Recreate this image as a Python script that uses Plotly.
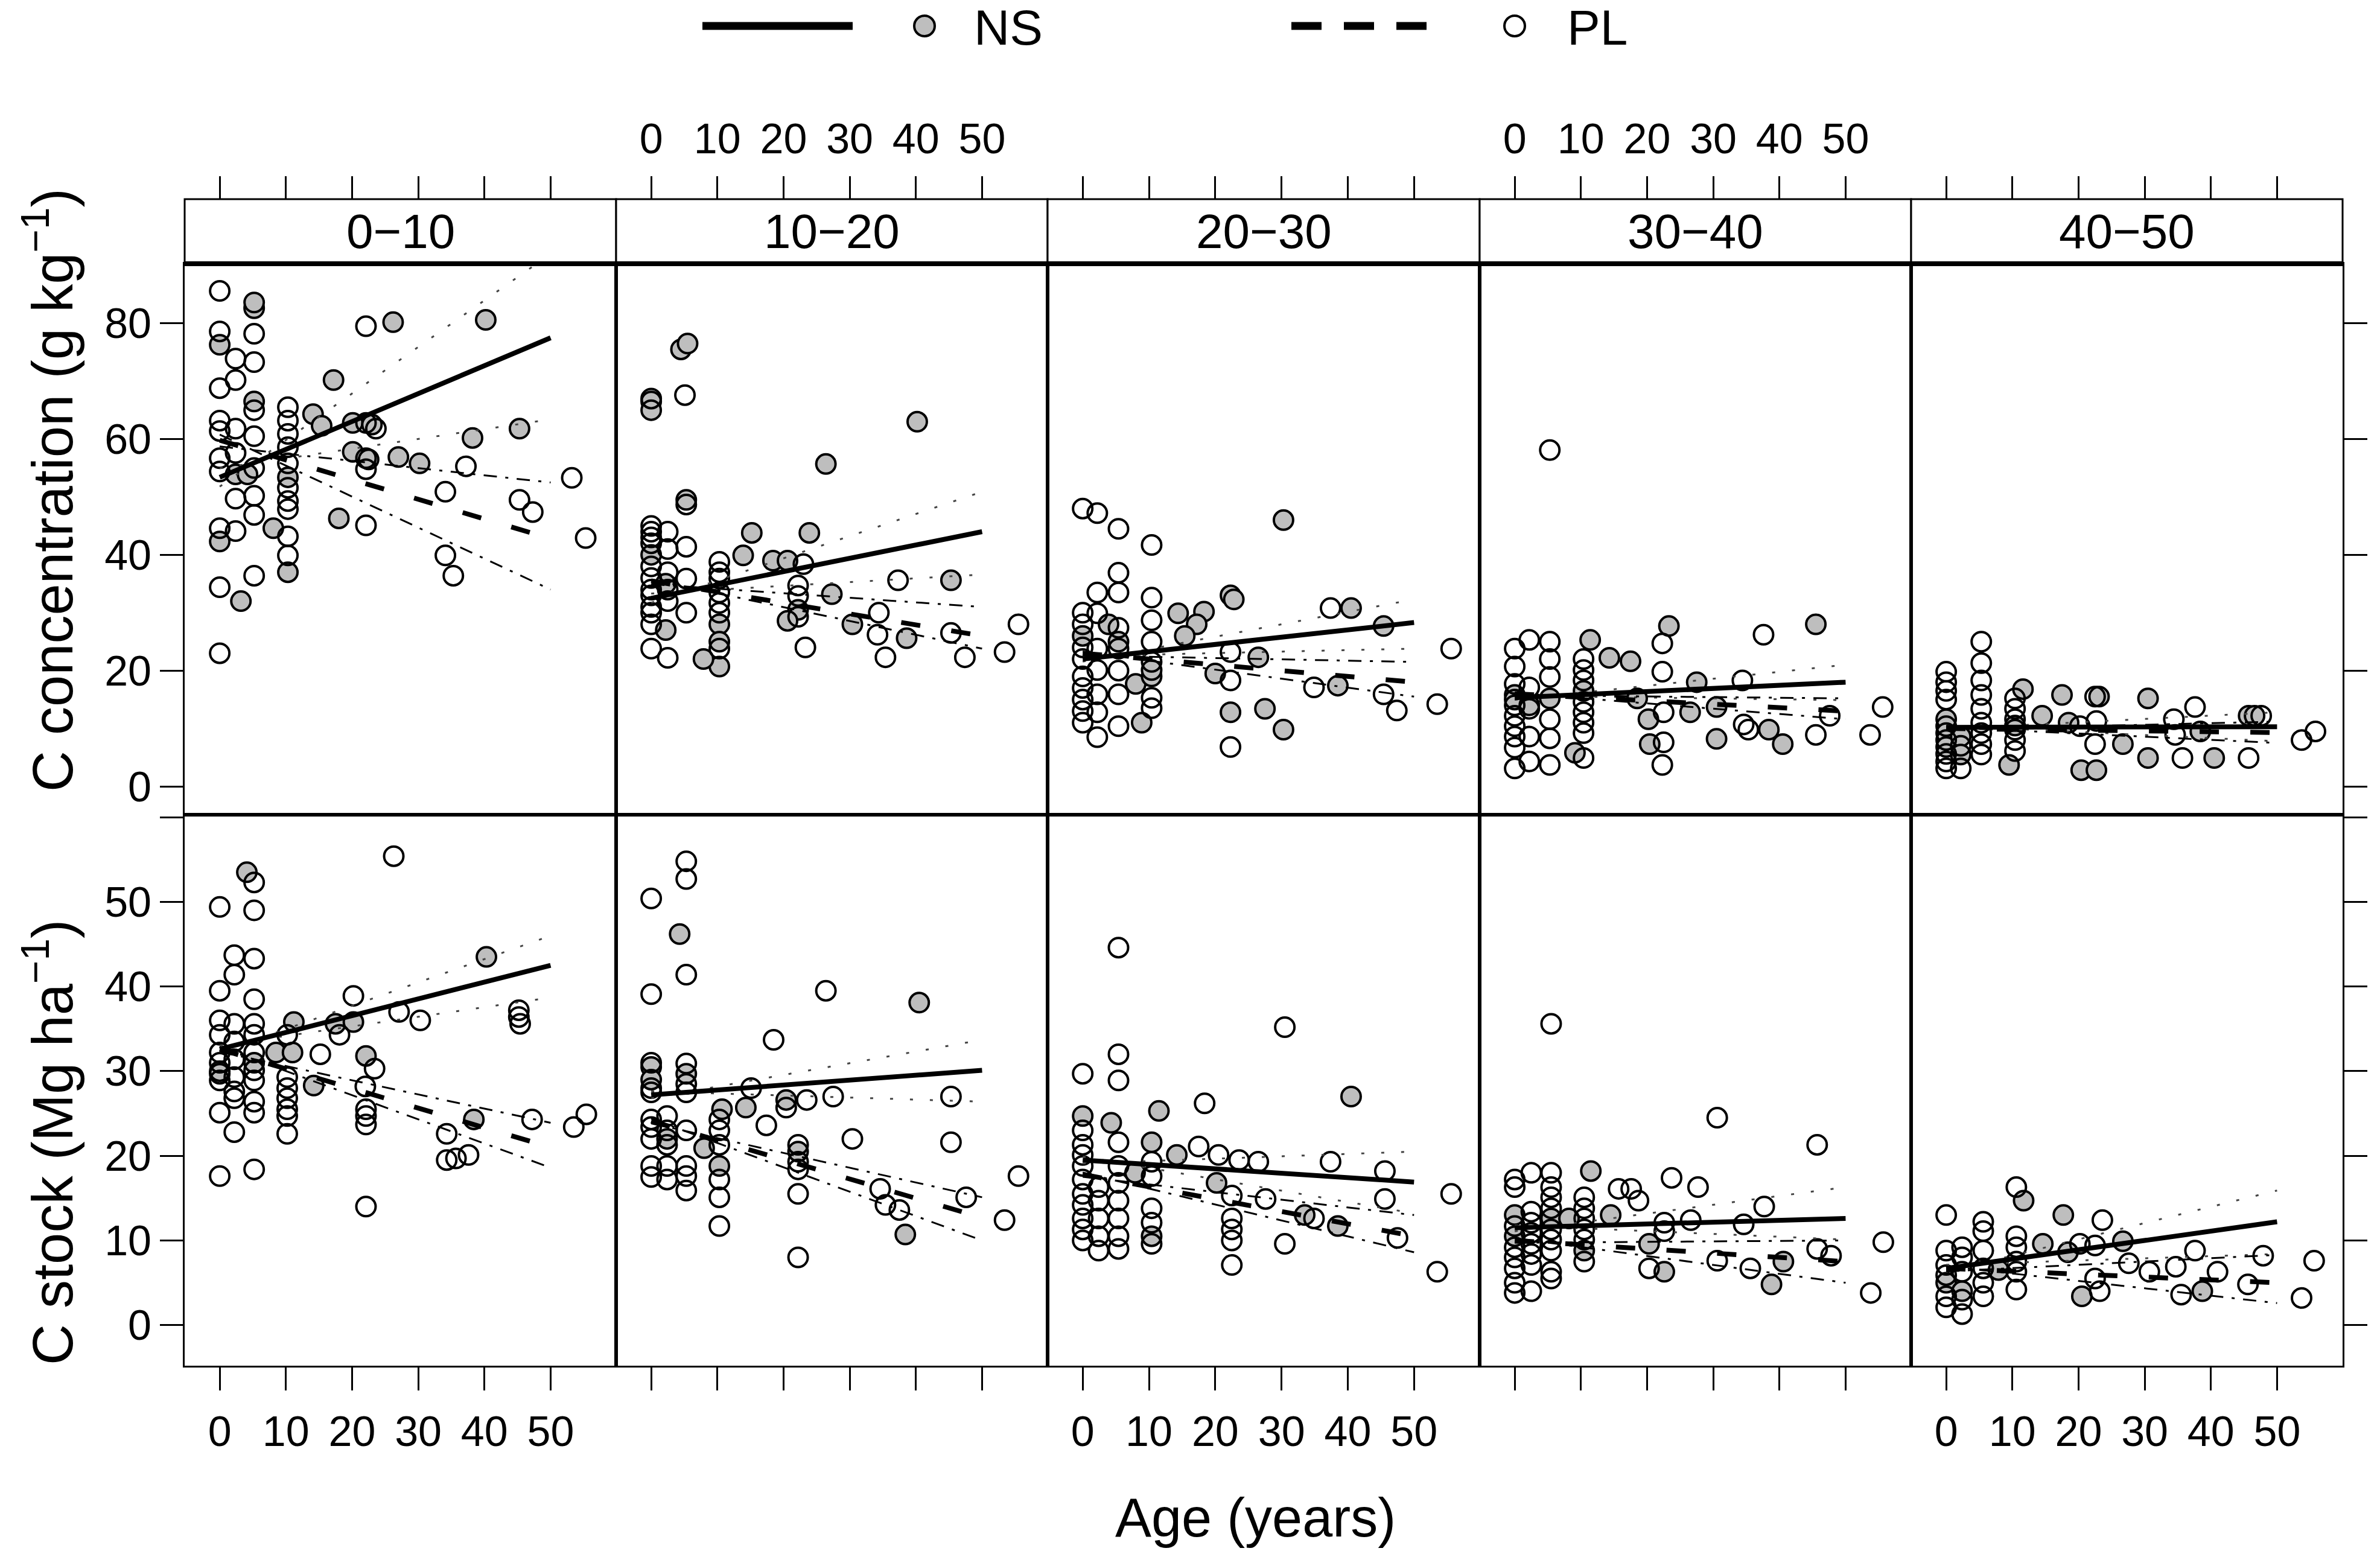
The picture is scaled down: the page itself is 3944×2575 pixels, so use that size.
import plotly.graph_objects as go

# ---- data (age in years, value) ----
depths = ["0−10", "10−20", "20−30", "30−40", "40−50"]
age_ticks = [0, 10, 20, 30, 40, 50]
conc_ticks = [0, 20, 40, 60, 80]
stock_ticks = [0, 10, 20, 30, 40, 50]
stock_extra_ticks = [60]
fit_ages = [0, 50]
ci_pivot_age = 5

ns_conc_0_10 = [(0, 76.3), (5.2, 82.6), (5.2, 83.6), (5.2, 66.5), (2.4, 53.9), (4.2, 53.9), (0, 42.3),
                (3.2, 32.0), (8.1, 44.6), (10.3, 53.4), (10.3, 37.0), (14.1, 64.3), (15.4, 62.3),
                (17.2, 70.2), (18.0, 46.3), (20.1, 62.8), (20.1, 57.8), (23.0, 62.5), (22.5, 56.5),
                (26.2, 80.2), (27.0, 56.9), (30.2, 55.8), (38.2, 60.2), (40.2, 80.6), (45.3, 61.8)]
pl_conc_0_10 = [(0, 85.6), (0, 78.6), (2.4, 73.9), (2.4, 70.2), (0, 68.8), (5.2, 78.2), (5.2, 73.3),
                (5.2, 65.0), (5.2, 60.5), (0, 63.2), (0, 61.4), (2.4, 61.8), (0, 56.7), (0, 54.4),
                (2.4, 57.6), (2.4, 49.7), (5.2, 50.2), (5.2, 46.9), (5.2, 55.0), (2.4, 44.1), (0, 44.6),
                (0, 34.4), (5.2, 36.4), (0, 23.0), (10.3, 65.5), (10.3, 63.2), (10.3, 60.9), (10.3, 58.6),
                (10.3, 55.8), (10.3, 51.6), (10.3, 49.3), (10.3, 47.9), (10.3, 43.2), (10.3, 39.9),
                (22.1, 79.5), (22.1, 62.8), (23.6, 61.8), (22.1, 56.7), (22.1, 54.8), (22.1, 45.1),
                (37.2, 55.3), (34.1, 50.9), (34.1, 39.9), (35.3, 36.4), (45.3, 49.5), (47.3, 47.4),
                (53.2, 53.3), (55.3, 42.9)]

ns_conc_10_20 = [(4.5, 75.5), (5.5, 76.5), (0, 66.5), (0, 65.0), (5.3, 49.5), (40.2, 63.0), (26.4, 55.7),
                 (2.2, 27.0), (10.3, 28.0), (10.3, 25.0), (10.3, 20.7), (7.9, 22.0), (15.2, 43.8),
                 (13.9, 39.9), (18.4, 39.0), (20.6, 39.0), (23.9, 43.8), (22.2, 30.5), (20.6, 28.6),
                 (27.3, 33.2), (45.3, 35.6), (30.4, 28.0), (38.6, 25.6), (0, 40.0), (2.2, 35.0)]
pl_conc_10_20 = [(0, 67.0), (5.1, 67.6), (5.3, 48.7), (0, 45.0), (0, 44.0), (0, 43.0), (0, 42.0), (0, 38.0),
                 (0, 36.0), (0, 34.0), (0, 33.0), (0, 31.0), (0, 30.0), (0, 28.0), (0, 23.8), (2.5, 44.0),
                 (2.5, 41.0), (2.5, 37.0), (2.5, 34.0), (2.5, 32.0), (2.5, 22.2), (5.3, 41.4), (5.3, 35.9),
                 (5.3, 30.0), (10.3, 38.8), (10.3, 37.0), (10.3, 35.9), (10.3, 33.5), (10.3, 31.7),
                 (10.3, 30.0), (10.3, 23.8), (23.0, 38.4), (22.2, 34.7), (22.2, 32.9), (22.2, 29.3),
                 (23.3, 24.0), (37.3, 35.6), (34.4, 30.0), (34.2, 26.2), (35.4, 22.3), (45.3, 26.5),
                 (47.4, 22.3), (53.4, 23.2), (55.5, 28.0)]

ns_conc_20_30 = [(0, 26.0), (3.9, 28.0), (5.4, 25.0), (8.0, 17.7), (8.9, 11.0), (10.4, 19.0), (10.4, 20.1),
                 (14.4, 29.9), (18.3, 30.2), (17.2, 28.0), (15.4, 26.0), (22.3, 33.0), (22.8, 32.3),
                 (26.5, 22.3), (20.0, 19.5), (22.3, 12.8), (27.5, 13.4), (30.3, 9.8), (30.3, 46.0),
                 (40.5, 30.8), (38.5, 17.4), (45.4, 27.7)]
pl_conc_20_30 = [(0, 48.0), (2.2, 47.2), (5.4, 44.5), (10.4, 41.7), (5.4, 36.9), (2.2, 33.5), (5.4, 33.5),
                 (10.4, 32.6), (10.4, 28.7), (0, 30.0), (0, 28.0), (0, 24.0), (0, 22.0), (0, 19.0),
                 (0, 17.0), (0, 15.0), (0, 13.0), (0, 11.0), (2.2, 29.9), (2.2, 23.8), (2.2, 20.1),
                 (2.2, 15.9), (2.2, 12.8), (2.2, 8.5), (5.4, 27.4), (5.4, 23.8), (5.4, 20.0), (5.4, 15.9),
                 (5.4, 10.4), (10.4, 25.0), (10.4, 21.5), (10.4, 15.3), (10.4, 13.5), (22.3, 23.2),
                 (22.3, 18.3), (22.3, 6.8), (37.4, 30.8), (34.9, 17.1), (45.4, 15.9), (47.4, 13.1),
                 (53.5, 14.2), (55.6, 23.8)]

ns_conc_30_40 = [(0, 15.8), (0, 15.0), (2.2, 14.0), (5.3, 15.2), (10.4, 16.5), (11.4, 25.3), (9.1, 5.8),
                 (14.3, 22.2), (17.5, 21.6), (23.3, 27.7), (18.5, 15.2), (20.2, 11.6), (20.4, 7.3),
                 (27.5, 18.0), (26.5, 12.8), (30.5, 13.7), (30.5, 8.2), (38.4, 9.8), (40.5, 7.3),
                 (45.5, 28.0)]
pl_conc_30_40 = [(5.3, 58.1), (0, 23.8), (0, 20.7), (0, 17.7), (0, 14.0), (0, 12.2), (0, 10.4), (0, 8.6),
                 (0, 6.7), (0, 3.1), (2.2, 25.3), (2.2, 17.1), (2.2, 13.4), (2.2, 8.6), (2.2, 4.3),
                 (5.3, 25.0), (5.3, 22.0), (5.3, 18.9), (5.3, 11.6), (5.3, 8.3), (5.3, 3.7), (10.4, 22.0),
                 (10.4, 20.1), (10.4, 18.3), (10.4, 14.6), (10.4, 12.8), (10.4, 11.0), (10.4, 9.2),
                 (10.4, 4.9), (22.3, 24.7), (22.3, 19.8), (22.5, 12.8), (22.5, 7.6), (22.3, 3.7),
                 (34.4, 18.3), (34.6, 10.7), (35.3, 9.8), (37.6, 26.2), (45.5, 8.9), (47.6, 12.2),
                 (53.7, 8.9), (55.6, 13.7)]

ns_conc_40_50 = [(0, 11.6), (0, 9.2), (0, 6.8), (2.2, 8.6), (2.2, 5.5), (11.6, 16.8), (9.5, 3.7),
                 (10.4, 10.5), (14.5, 12.2), (17.5, 15.8), (18.5, 11.0), (23.1, 15.5), (20.4, 2.8),
                 (22.7, 2.8), (26.7, 7.3), (30.5, 15.2), (30.5, 4.9), (38.4, 9.5), (40.5, 4.9),
                 (45.7, 12.2), (46.6, 12.2)]
pl_conc_40_50 = [(0, 19.8), (0, 18.0), (0, 16.5), (0, 15.0), (0, 10.4), (0, 8.0), (0, 5.6), (0, 4.3),
                 (0, 3.1), (2.2, 7.0), (2.2, 3.1), (5.3, 25.0), (5.3, 21.3), (5.3, 18.3), (5.3, 15.8),
                 (5.3, 13.4), (5.3, 11.0), (5.3, 9.2), (5.3, 7.3), (5.3, 5.5), (10.4, 15.2), (10.4, 13.4),
                 (10.4, 11.6), (10.4, 9.8), (10.4, 8.0), (10.4, 6.1), (20.2, 10.4), (22.7, 11.3),
                 (22.5, 15.5), (22.5, 7.3), (34.4, 11.6), (34.6, 8.9), (35.7, 4.9), (37.6, 13.7),
                 (45.7, 4.9), (47.6, 12.2), (53.7, 8.0), (55.8, 9.5)]

ns_stock_0_10 = [(4.1, 53.5), (0, 30.0), (5.2, 31.0), (8.5, 32.2), (11.2, 35.8), (11.0, 32.2), (14.2, 28.3),
                 (17.5, 35.6), (20.2, 35.8), (22.1, 31.8), (38.4, 24.3), (40.3, 43.5)]
pl_stock_0_10 = [(5.2, 52.3), (26.3, 55.4), (0, 49.4), (5.2, 49.0), (2.2, 43.7), (5.2, 43.3), (2.2, 41.4),
                 (0, 39.5), (5.2, 38.5), (0, 36.0), (0, 34.3), (0, 32.2), (0, 31.0), (0, 29.7), (0, 28.9),
                 (0, 25.1), (0, 17.6), (2.2, 35.6), (2.2, 33.5), (2.2, 31.4), (2.2, 29.3), (2.2, 27.6),
                 (2.2, 26.8), (2.2, 22.8), (5.2, 35.6), (5.2, 34.3), (5.2, 32.2), (5.2, 30.1), (5.2, 28.9),
                 (5.2, 26.4), (5.2, 25.1), (5.2, 18.4), (10.2, 34.3), (10.2, 29.3), (10.2, 28.0),
                 (10.2, 26.8), (10.2, 25.5), (10.2, 24.7), (10.2, 22.6), (15.2, 32.0), (18.1, 34.3),
                 (20.2, 38.9), (23.4, 30.3), (22.0, 28.2), (22.1, 25.5), (22.1, 24.7), (22.1, 23.7),
                 (22.1, 14.0), (27.1, 37.0), (30.3, 36.0), (45.2, 37.2), (45.2, 36.4), (45.4, 35.6),
                 (34.3, 22.6), (34.3, 19.5), (35.7, 19.7), (37.6, 20.1), (47.2, 24.3), (53.5, 23.4),
                 (55.4, 24.9)]

ns_stock_10_20 = [(4.3, 46.2), (40.5, 38.1), (0, 30.5), (0, 29.0), (5.3, 29.7), (2.4, 22.0), (10.7, 25.5),
                  (10.3, 18.8), (8.0, 20.9), (14.3, 25.7), (20.4, 26.6), (22.2, 20.5), (38.4, 10.7)]
pl_stock_10_20 = [(5.3, 54.8), (5.3, 52.7), (0, 50.4), (5.3, 41.4), (0, 39.1), (26.4, 39.5), (18.5, 33.7),
                  (0, 31.0), (0, 28.0), (0, 27.5), (0, 24.3), (0, 23.4), (0, 22.0), (0, 18.8), (0, 17.5),
                  (2.4, 24.7), (2.4, 23.0), (2.4, 21.3), (2.4, 18.8), (2.4, 17.2), (5.3, 30.9), (5.3, 28.5),
                  (5.3, 27.5), (5.3, 23.0), (5.3, 18.8), (5.3, 17.6), (5.3, 15.9), (10.3, 24.3),
                  (10.3, 23.0), (10.3, 21.3), (10.3, 17.2), (10.3, 15.1), (10.3, 11.7), (15.1, 28.0),
                  (17.4, 23.6), (20.4, 25.7), (23.5, 26.6), (27.5, 27.0), (22.2, 21.3), (22.2, 19.3),
                  (22.2, 18.4), (22.2, 15.5), (22.2, 8.0), (30.4, 22.0), (34.6, 16.1), (35.4, 14.2),
                  (37.5, 13.6), (45.3, 27.0), (45.3, 21.6), (47.6, 15.1), (53.4, 12.4), (55.5, 17.6)]

ns_stock_20_30 = [(0, 24.7), (4.3, 23.9), (7.9, 18.0), (10.4, 21.6), (11.5, 25.3), (10.4, 10.5),
                  (14.2, 20.1), (20.2, 16.8), (33.5, 13.0), (38.5, 11.7), (40.5, 27.0)]
pl_stock_20_30 = [(5.4, 44.6), (30.5, 35.2), (5.4, 32.0), (0, 29.7), (5.4, 28.9), (18.4, 26.2), (0, 23.0),
                  (0, 21.3), (0, 20.1), (0, 18.8), (0, 17.2), (0, 15.5), (0, 14.2), (0, 12.6), (0, 11.3),
                  (0, 10.0), (2.4, 16.3), (2.4, 14.7), (2.4, 12.6), (2.4, 10.5), (2.4, 8.8), (5.4, 21.6),
                  (5.4, 18.8), (5.4, 16.8), (5.4, 14.7), (5.4, 12.6), (5.4, 10.5), (5.4, 9.0), (10.4, 19.3),
                  (10.4, 17.6), (10.4, 13.8), (10.4, 12.1), (10.4, 9.6), (17.5, 21.1), (20.5, 20.1),
                  (23.6, 19.5), (26.5, 19.3), (37.4, 19.3), (45.6, 18.2), (22.5, 15.3), (22.5, 12.6),
                  (22.5, 11.3), (22.5, 10.0), (22.5, 7.1), (27.6, 14.9), (30.5, 9.6), (34.9, 12.6),
                  (45.6, 14.9), (47.5, 10.3), (53.5, 6.3), (55.6, 15.5)]

ns_stock_30_40 = [(0, 13.0), (0, 10.5), (5.5, 12.6), (8.2, 12.6), (10.5, 8.8), (11.5, 18.2), (14.5, 13.0),
                  (20.3, 9.6), (22.6, 6.3), (38.8, 4.8), (40.6, 7.5)]
pl_stock_30_40 = [(5.5, 35.6), (30.6, 24.5), (45.7, 21.3), (23.7, 17.4), (27.7, 16.3), (15.7, 16.1),
                  (17.6, 16.1), (18.7, 14.7), (37.7, 14.0), (34.6, 11.9), (26.6, 12.4), (22.6, 12.1),
                  (22.6, 11.1), (45.7, 9.0), (47.8, 8.2), (55.7, 9.8), (53.8, 3.8), (30.6, 7.6), (35.6, 6.7),
                  (20.3, 6.7), (0, 17.2), (0, 16.3), (0, 11.7), (0, 9.2), (0, 8.0), (0, 6.7), (0, 5.0),
                  (0, 3.8), (2.5, 18.0), (2.5, 13.4), (2.5, 12.1), (2.5, 10.9), (2.5, 9.6), (2.5, 8.4),
                  (2.5, 7.1), (2.5, 4.0), (5.5, 18.0), (5.5, 16.3), (5.5, 15.1), (5.5, 13.8), (5.5, 11.3),
                  (5.5, 10.1), (5.5, 8.8), (5.5, 6.3), (5.5, 5.5), (10.5, 15.1), (10.5, 13.8), (10.5, 12.6),
                  (10.5, 11.3), (10.5, 10.1), (10.5, 7.5)]

ns_stock_40_50 = [(0, 5.0), (2.4, 4.0), (7.9, 6.5), (11.7, 14.7), (14.6, 9.6), (17.7, 13.0), (18.4, 8.6),
                  (20.5, 3.4), (26.7, 9.9), (38.7, 4.0)]
pl_stock_40_50 = [(0, 13.0), (5.6, 12.2), (10.6, 16.3), (23.6, 12.4), (37.6, 8.8), (47.9, 8.2), (55.6, 7.6),
                  (53.7, 3.2), (20.2, 9.6), (22.5, 9.4), (22.5, 5.5), (23.2, 4.0), (27.6, 7.3), (30.7, 6.3),
                  (34.7, 6.9), (35.5, 3.6), (41.0, 6.3), (45.6, 4.8), (0, 8.8), (0, 7.1), (0, 5.9),
                  (0, 3.4), (0, 2.1), (2.4, 9.2), (2.4, 8.0), (2.4, 6.3), (2.4, 3.0), (2.4, 1.3),
                  (5.6, 11.1), (5.6, 8.8), (5.6, 6.7), (5.6, 5.0), (5.6, 3.4), (10.6, 10.5), (10.6, 9.2),
                  (10.6, 7.5), (10.6, 6.3), (10.6, 4.2)]

# regression lines: (value at age 0, value at age 50, lower bound at 50, upper bound at 50)
ns_conc_fit = [(53.4, 77.5, 63.4, 92.0), (32.5, 44.0, 36.6, 50.9), (22.0, 28.3, 23.8, 32.3),
               (15.3, 18.0, 14.9, 21.0), (10.2, 10.3, 7.8, 12.8)]
pl_conc_fit = [(59.8, 42.8, 34.0, 52.5), (35.5, 26.0, 23.8, 31.0), (23.0, 18.0, 15.5, 21.5),
               (16.0, 13.0, 11.6, 15.2), (10.0, 9.3, 7.5, 11.2)]
ns_stock_fit = [(32.6, 42.5, 38.7, 46.0), (27.2, 30.1, 26.4, 33.7), (19.5, 16.9, 13.2, 20.5),
                (11.5, 12.6, 10.1, 16.3), (6.7, 12.2, 8.4, 15.9)]
pl_stock_fit = [(32.6, 21.0, 18.6, 23.9), (24.1, 12.7, 10.0, 15.1), (17.8, 10.5, 8.6, 13.0),
                (10.0, 7.5, 5.0, 10.0), (6.7, 5.0, 2.6, 8.3)]

conc_ns = [ns_conc_0_10, ns_conc_10_20, ns_conc_20_30, ns_conc_30_40, ns_conc_40_50]
conc_pl = [pl_conc_0_10, pl_conc_10_20, pl_conc_20_30, pl_conc_30_40, pl_conc_40_50]
stock_ns = [ns_stock_0_10, ns_stock_10_20, ns_stock_20_30, ns_stock_30_40, ns_stock_40_50]
stock_pl = [pl_stock_0_10, pl_stock_10_20, pl_stock_20_30, pl_stock_30_40, pl_stock_40_50]

# ---- layout geometry (pixels of the 3944x2575 page) ----
W, H = 3944, 2575
COL_PX = [306, 1021, 1736, 2452, 3167, 3882]
ROW_PX = [437, 1350, 2263]
STRIP_TOP = 330
X_RANGE = [-5.3, 59.9]
Y_RANGES = [[-4.9, 90.3], [-4.8, 60.3]]
FONT = "Liberation Sans, Arial, sans-serif"
TICK_FONT = dict(family=FONT, size=70, color="black")


def px_x(p):
    return p / W


def px_y(p):
    return 1 - p / H


NS_MARK = dict(symbol="circle", size=32, color="#bebebe", line=dict(color="black", width=4))
PL_MARK = dict(symbol="circle-open", size=32, color="black", line=dict(width=4))
NS_FIT = dict(color="black", width=8)
PL_FIT = dict(color="black", width=8, dash="32px,52px")
NS_CI = dict(color="#444444", width=3, dash="5px,28px")
PL_CI = dict(color="black", width=3, dash="22px,14px,5px,14px")


def ci_values(fit, bound):
    y0, y50 = fit[0], fit[1]
    span = fit_ages[1] - fit_ages[0]
    yp = y0 + (y50 - y0) * (ci_pivot_age - fit_ages[0]) / span
    slope = (bound - yp) / (fit_ages[1] - ci_pivot_age)
    return [yp + slope * (fit_ages[0] - ci_pivot_age), bound]


fig = go.Figure()
rows = [(conc_ns, conc_pl, ns_conc_fit, pl_conc_fit),
        (stock_ns, stock_pl, ns_stock_fit, pl_stock_fit)]

for r, (ns_all, pl_all, ns_fits, pl_fits) in enumerate(rows):
    for c in range(5):
        i = r * 5 + c + 1
        xa = "x" if i == 1 else f"x{i}"
        ya = "y" if i == 1 else f"y{i}"
        for pts, mk in ((ns_all[c], NS_MARK), (pl_all[c], PL_MARK)):
            fig.add_trace(go.Scatter(x=[p[0] for p in pts], y=[p[1] for p in pts], mode="markers",
                                     marker=mk, xaxis=xa, yaxis=ya, showlegend=False, hoverinfo="skip"))
        for fit, main, ci in ((ns_fits[c], NS_FIT, NS_CI), (pl_fits[c], PL_FIT, PL_CI)):
            for bound in (fit[2], fit[3]):
                fig.add_trace(go.Scatter(x=fit_ages, y=ci_values(fit, bound), mode="lines", line=ci,
                                         xaxis=xa, yaxis=ya, showlegend=False, hoverinfo="skip"))
            fig.add_trace(go.Scatter(x=fit_ages, y=[fit[0], fit[1]], mode="lines", line=main,
                                     xaxis=xa, yaxis=ya, showlegend=False, hoverinfo="skip"))

layout = {}
for r in range(2):
    for c in range(5):
        i = r * 5 + c + 1
        sfx = "" if i == 1 else str(i)
        bottom = r == 1
        layout["xaxis" + sfx] = dict(
            domain=[px_x(COL_PX[c]), px_x(COL_PX[c + 1])], range=X_RANGE, anchor="y" + sfx,
            showline=True, mirror=True, linecolor="black", linewidth=3, showgrid=False, zeroline=False,
            tickvals=age_ticks, ticks="outside" if bottom else "", ticklen=38, tickwidth=3,
            tickcolor="black", showticklabels=bottom and c % 2 == 0, tickfont=TICK_FONT,
            ticklabelstandoff=8)
        yax = dict(
            domain=[px_y(ROW_PX[r + 1]), px_y(ROW_PX[r])], range=Y_RANGES[r], anchor="x" + sfx,
            showline=True, mirror=True, linecolor="black", linewidth=3, showgrid=False, zeroline=False,
            tickvals=conc_ticks if r == 0 else stock_ticks, ticks="outside" if c in (0, 4) else "",
            side="right" if c == 4 else "left", ticklen=38, tickwidth=3, tickcolor="black",
            showticklabels=c == 0, tickfont=TICK_FONT)
        if r == 1 and c in (0, 4):
            yax["minor"] = dict(tickvals=stock_extra_ticks, ticks="outside", ticklen=38, tickwidth=3,
                                tickcolor="black", showgrid=False)
        layout["yaxis" + sfx] = yax

# tick axes along the top of the strips
for c in range(5):
    k = 11 + c
    base = "x" if c == 0 else f"x{c + 1}"
    layout[f"xaxis{k}"] = dict(
        overlaying=base, anchor="free", position=px_y(STRIP_TOP), side="top",
        domain=[px_x(COL_PX[c]), px_x(COL_PX[c + 1])], range=X_RANGE, tickvals=age_ticks,
        ticks="outside", ticklen=38, tickwidth=3, tickcolor="black", showticklabels=c % 2 == 1,
        showline=False, showgrid=False, zeroline=False, tickfont=TICK_FONT, ticklabelstandoff=10)
    fig.add_trace(go.Scatter(x=[None], y=[None], xaxis=f"x{k}", yaxis="y" if c == 0 else f"y{c + 1}",
                             showlegend=False, hoverinfo="skip"))

shapes = []
annotations = []
for c in range(5):
    shapes.append(dict(type="rect", xref="paper", yref="paper",
                       x0=px_x(COL_PX[c]), x1=px_x(COL_PX[c + 1]), y0=px_y(ROW_PX[0]), y1=px_y(STRIP_TOP),
                       line=dict(color="black", width=3), fillcolor="white", layer="below"))
    annotations.append(dict(text=depths[c], xref="paper", yref="paper", showarrow=False,
                            x=px_x((COL_PX[c] + COL_PX[c + 1]) / 2), y=px_y((STRIP_TOP + ROW_PX[0]) / 2),
                            xanchor="center", yanchor="middle", font=dict(family=FONT, size=80, color="black")))
shapes.append(dict(type="line", xref="paper", yref="paper", x0=px_x(COL_PX[0]), x1=px_x(COL_PX[5]),
                   y0=px_y(ROW_PX[0]), y1=px_y(ROW_PX[0]), line=dict(color="black", width=8)))

# legend (key at top)
LEG_Y = 43
R = 17
shapes += [
    dict(type="line", xref="paper", yref="paper", x0=px_x(1164), x1=px_x(1413), y0=px_y(LEG_Y), y1=px_y(LEG_Y),
         line=dict(color="black", width=13)),
    dict(type="circle", xref="paper", yref="paper", x0=px_x(1532 - R), x1=px_x(1532 + R),
         y0=px_y(LEG_Y + R), y1=px_y(LEG_Y - R), fillcolor="#bebebe", line=dict(color="black", width=4)),
    dict(type="line", xref="paper", yref="paper", x0=px_x(2140), x1=px_x(2364), y0=px_y(LEG_Y), y1=px_y(LEG_Y),
         line=dict(color="black", width=13, dash="50px,37px")),
    dict(type="circle", xref="paper", yref="paper", x0=px_x(2510 - R), x1=px_x(2510 + R),
         y0=px_y(LEG_Y + R), y1=px_y(LEG_Y - R), fillcolor="white", line=dict(color="black", width=4)),
]
for label, xpos in (("NS", 1612), ("PL", 2595)):
    annotations.append(dict(text=label, xref="paper", yref="paper", showarrow=False, x=px_x(xpos),
                            y=px_y(LEG_Y + 2), xanchor="left", yanchor="middle",
                            font=dict(family=FONT, size=82, color="black")))

# axis titles
annotations += [
    dict(text="Age (years)", xref="paper", yref="paper", showarrow=False, x=px_x(2080), y=px_y(2515),
         xanchor="center", yanchor="middle", font=dict(family=FONT, size=90, color="black")),
    dict(text="C concentration (g kg<sup>−1</sup>)", xref="paper", yref="paper", showarrow=False,
         x=px_x(80), y=px_y(812), xanchor="center", yanchor="middle", textangle=-90,
         font=dict(family=FONT, size=94, color="black")),
    dict(text="C stock (Mg ha<sup>−1</sup>)", xref="paper", yref="paper", showarrow=False,
         x=px_x(80), y=px_y(1893), xanchor="center", yanchor="middle", textangle=-90,
         font=dict(family=FONT, size=94, color="black")),
]

fig.update_layout(**layout)
fig.update_layout(width=W, height=H, margin=dict(l=0, r=0, t=0, b=0), autosize=False,
                  paper_bgcolor="white", plot_bgcolor="white", showlegend=False,
                  shapes=shapes, annotations=annotations, font=dict(family=FONT, color="black"))

fig.write_html("out.html", config={"displayModeBar": False},
               post_script="document.body.style.margin='0';document.body.style.overflow='hidden';")
